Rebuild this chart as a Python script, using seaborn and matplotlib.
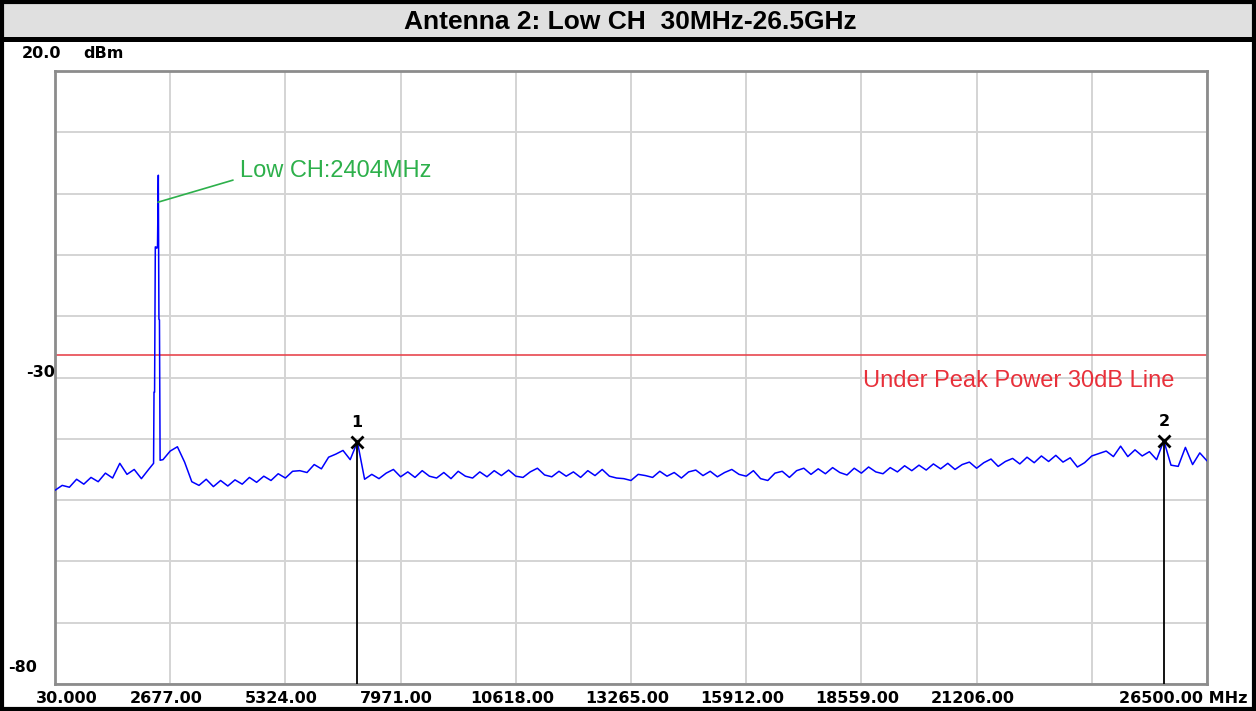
import numpy as np
import pandas as pd
import seaborn as sns
import matplotlib
matplotlib.use('Agg')
from matplotlib import pyplot as plt
from matplotlib.patches import Rectangle
from matplotlib.transforms import ScaledTranslation

# sweep: 161 points from 30 MHz to 26.5 GHz (noise floor, dBm)
start_mhz, stop_mhz = 30, 26500
floor_level = [
    -48.4, -47.6, -47.9, -46.6, -47.4, -46.3, -47.0, -45.6, -46.4, -44.0,
    -45.8, -45.0, -46.5, -45.0, -44.5, -43.4, -42.0, -41.3, -43.8, -47.0,
    -47.6, -46.6, -47.8, -46.8, -47.7, -46.7, -47.4, -46.3, -47.1, -46.1,
    -46.8, -45.7, -46.4, -45.3, -45.2, -45.5, -44.2, -44.9, -43.0, -42.5,
    -41.9, -43.4, -40.5, -46.6, -45.8, -46.5, -45.6, -45.0, -46.2, -45.4,
    -46.3, -45.2, -46.1, -46.4, -45.5, -46.5, -45.3, -46.1, -46.4, -45.4,
    -46.2, -45.2, -46.0, -45.1, -46.1, -46.3, -45.4, -44.8, -45.9, -46.2,
    -45.3, -46.1, -45.4, -46.3, -45.2, -46.0, -45.0, -46.1, -46.4, -46.5,
    -46.8, -45.8, -46.0, -46.3, -45.3, -46.1, -45.5, -46.4, -45.4, -45.1,
    -46.0, -45.3, -46.2, -45.5, -45.0, -45.8, -46.1, -45.2, -46.5, -46.8,
    -45.6, -45.3, -46.3, -45.2, -44.8, -45.8, -44.9, -45.7, -44.7, -45.5,
    -45.9, -44.8, -45.6, -44.6, -45.4, -45.7, -44.7, -45.4, -44.4, -45.2,
    -44.3, -45.1, -44.1, -44.9, -44.0, -45.0, -44.2, -43.8, -44.8, -43.9,
    -43.3, -44.5, -43.7, -43.2, -44.1, -43.0, -43.9, -42.8, -43.7, -42.7,
    -43.8, -43.1, -44.6, -43.9, -42.8, -42.4, -42.0, -42.9, -41.2, -42.9,
    -41.8, -42.8, -42.1, -43.4, -40.3, -44.3, -44.5, -41.4, -44.2, -42.3,
    -43.6,
]

# carrier at the low channel
spike_freq = [2295, 2305, 2318, 2335, 2350, 2365, 2385, 2404, 2418, 2430, 2445]
spike_level = [-44.0, -32.4, -32.4, -8.7, -8.7, -8.9, -8.8, 3.0, -20.5, -20.6, -43.5]

# markers
marker_freq = [6969, 25512]
marker_level = [-40.5, -40.3]
marker_names = ['1', '2']

limit_level = -26.3
limit_text = 'Under Peak Power 30dB Line'
limit_text_pos = (22180, -30.6)

carrier_text = 'Low CH:2404MHz'
carrier_line_x = [2397, 4120]
carrier_line_y = [-1.4, 2.2]
carrier_text_pos = (4280, 3.7)

title = 'Antenna 2: Low CH  30MHz-26.5GHz'

xtick_pos = [30, 2677, 5324, 7971, 10618, 13265, 15912, 18559, 21206, 23853, 26500]
xtick_labels = ['30.000', '2677.00', '5324.00', '7971.00', '10618.00', '13265.00',
                '15912.00', '18559.00', '21206.00', '', '26500.00 MHz']
ytick_pos = [20, 10, 0, -10, -20, -30, -40, -50, -60, -70, -80]
ylabel_vals = [20, 20, -30, -80]
ylabel_text = ['20.0', 'dBm', '-30', '-80']

floor_freq = np.linspace(start_mhz, stop_mhz, len(floor_level))
df = pd.DataFrame({'freq': floor_freq, 'level': floor_level})
df = df[(df.freq < min(spike_freq)) | (df.freq > max(spike_freq))]
df = pd.concat([df, pd.DataFrame({'freq': spike_freq, 'level': spike_level})])
df = df.sort_values('freq')

sns.set_style('white')
plt.rcParams['font.family'] = ['Liberation Sans', 'DejaVu Sans']
plt.rcParams['text.color'] = 'black'
plt.rcParams['xtick.color'] = 'black'
plt.rcParams['ytick.color'] = 'black'

W, H = 1256, 711
fig = plt.figure(figsize=(W / 100, H / 100), dpi=100)

# frame and title band
fig.add_artist(Rectangle((4 / W, 1 - 37 / H), 1248 / W, 33 / H, facecolor='#E0E0E0',
                         edgecolor='none', transform=fig.transFigure, zorder=0))
fig.add_artist(Rectangle((0, 1 - 42 / H), 1, 5 / H, facecolor='black',
                         edgecolor='none', transform=fig.transFigure, zorder=1))
fig.add_artist(Rectangle((2 / W, 2 / H), (W - 4) / W, (H - 4) / H, fill=False,
                         edgecolor='black', linewidth=3, transform=fig.transFigure, zorder=5))
fig.text(630 / W, 1 - 22 / H, title, ha='center', va='center', fontsize=19,
         fontweight='bold', color='black')

ax = fig.add_axes([55 / W, 1 - 684 / H, 1152 / W, 613 / H])

sns.lineplot(data=df, x='freq', y='level', color='#0000FF', linewidth=1.1,
             estimator=None, ax=ax, zorder=3)

ax.set_xlim(start_mhz, stop_mhz)
ax.set_ylim(-80, 20)
ax.set_xlabel('')
ax.set_ylabel('')
ax.set_xticks(xtick_pos, xtick_labels)
ax.set_yticks(ytick_pos, [''] * len(ytick_pos))
ax.grid(True, color='#D4D4D4', linewidth=1.4)
ax.tick_params(length=0, pad=5)
for s in ax.spines.values():
    s.set_color('#8C8C8C')
    s.set_linewidth(2)

offsets = [12] + [-4] * 9 + [-24]
for lbl, dx in zip(ax.get_xticklabels(), offsets):
    lbl.set_family('DejaVu Sans')
    lbl.set_fontweight('bold')
    lbl.set_fontsize(11.5)
    lbl.set_color('black')
    lbl.set_transform(lbl.get_transform() + ScaledTranslation(dx / 100, 0, fig.dpi_scale_trans))

# y labels placed like the analyzer screen
ylab_off = [(-33, 18, 'left'), (28, 18, 'left'), (0, 5, 'right'), (-47, 16, 'left')]
for v, t, (dx, dy, ha) in zip(ylabel_vals, ylabel_text, ylab_off):
    ax.annotate(t, xy=(0, v), xycoords=('axes fraction', 'data'), xytext=(dx, dy),
                textcoords='offset pixels', ha=ha, va='center', family='DejaVu Sans',
                fontweight='bold', fontsize=11.5, color='black', annotation_clip=False)

# limit line
ax.axhline(limit_level, color='#E8474F', linewidth=1.2, zorder=2)
ax.text(limit_text_pos[0], limit_text_pos[1], limit_text, color='#E8303A', fontsize=17,
        ha='center', va='center')

# carrier label
ax.plot(carrier_line_x, carrier_line_y, color='#2DB04B', linewidth=1.2, zorder=4)
ax.text(carrier_text_pos[0], carrier_text_pos[1], carrier_text, color='#2DB04B', fontsize=17,
        ha='left', va='center')

# markers
ax.vlines(marker_freq, -80, marker_level, color='black', linewidth=1.3, zorder=4)
ax.plot(marker_freq, marker_level, linestyle='none', marker='x', color='black',
        markersize=8, markeredgewidth=2, zorder=5)
for f, v, n in zip(marker_freq, marker_level, marker_names):
    ax.annotate(n, xy=(f, v), xytext=(0, 19), textcoords='offset pixels', ha='center',
                va='center', family='DejaVu Sans', fontweight='bold', fontsize=11.5,
                color='black')

fig.savefig('out.png', dpi=100)
